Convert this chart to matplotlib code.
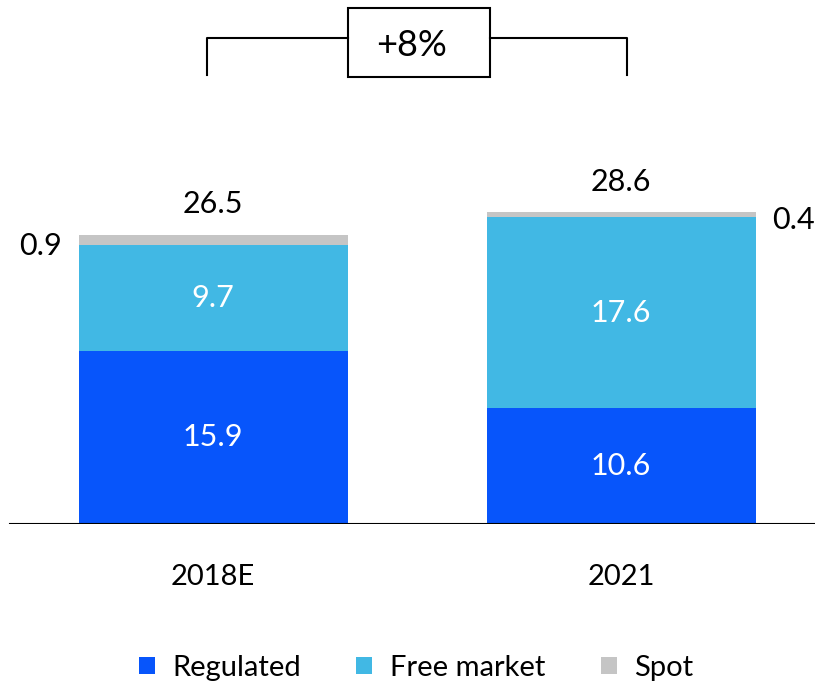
import matplotlib
matplotlib.use("Agg")
import matplotlib.pyplot as plt
from matplotlib.patches import Rectangle
import numpy as np

categories = ["2018E", "2021"]
regulated = [15.9, 10.6]
free_market = [9.7, 17.6]
spot = [0.9, 0.4]
totals = [26.5, 28.6]
growth_label = "+8%"
series_names = ["Regulated", "Free market", "Spot"]
colors = ["#0755FB", "#41B8E4", "#C5C5C5"]

plt.rcParams['font.family'] = ['Lato', 'DejaVu Sans']

W, H = 815, 687
fig = plt.figure(figsize=(W / 100, H / 100), dpi=100)
ax = fig.add_axes([0, (H - 524) / H, 1, 524 / H])
ax.set_xlim(-213 / 408, 1 + (W - 621) / 408)
ax.set_ylim(0, 524 / 10.9)
ax.axis("off")

x = np.arange(len(categories))
width = 269 / 408
reg = np.array(regulated)
fm = np.array(free_market)
sp = np.array(spot)

ax.bar(x, reg, width, color=colors[0], edgecolor="white", linewidth=1.8, label=series_names[0])
ax.bar(x, fm, width, bottom=reg, color=colors[1], edgecolor="white", linewidth=1.8, label=series_names[1])
ax.bar(x, sp, width, bottom=reg + fm, color=colors[2], edgecolor="white", linewidth=0.8, label=series_names[2])

ax.axhline(0, xmin=10 / W, xmax=1, color="black", linewidth=1.5, zorder=5)

fs = 22
for i in range(len(categories)):
    ax.text(x[i], reg[i] / 2, f"{regulated[i]}", ha="center", va="center", color="white", fontsize=fs)
    ax.text(x[i], reg[i] + fm[i] / 2, f"{free_market[i]}", ha="center", va="center", color="white", fontsize=fs)
    ax.annotate(f"{totals[i]}", (x[i], totals[i]), xytext=(0, 12), textcoords="offset points",
                ha="center", va="bottom", fontsize=fs, color="black")
    ax.text(x[i], -4.9, categories[i], ha="center", va="center", fontsize=21, color="black")

# spot labels
ax.annotate(f"{spot[0]}", (x[0] - width / 2, reg[0] + fm[0] + sp[0] / 2), xytext=(-12, -4),
            textcoords="offset points", ha="right", va="center", fontsize=fs)
ax.annotate(f"{spot[1]}", (x[1] + width / 2, reg[1] + fm[1] + sp[1] / 2), xytext=(12, -4),
            textcoords="offset points", ha="left", va="center", fontsize=fs)

# growth bracket (figure pixel coords)
def fx(px):
    return px / W

def fy(py):
    return 1 - py / H

lw = 1.5
fig.add_artist(plt.Line2D([fx(207), fx(207), fx(348)], [fy(75), fy(38), fy(38)], color="black", lw=lw))
fig.add_artist(plt.Line2D([fx(490), fx(627), fx(627)], [fy(38), fy(38), fy(75)], color="black", lw=lw))
fig.add_artist(Rectangle((fx(348), fy(77)), fx(490) - fx(348), fy(8) - fy(77),
                         transform=fig.transFigure, fill=False, edgecolor="black", lw=lw))
fig.text(fx(412), fy(46), growth_label, ha="center", va="center", fontsize=26)

# legend
handles, labels = ax.get_legend_handles_labels()
for h in handles:
    for p in h.patches:
        p.set_edgecolor("none")
leg = fig.legend(handles, labels, loc="center", bbox_to_anchor=(fx(416), fy(668)), ncol=3, frameon=False,
                 fontsize=21, handlelength=0.55, handleheight=0.55, handletextpad=0.6, columnspacing=1.9)

fig.savefig("out.png", dpi=100)
